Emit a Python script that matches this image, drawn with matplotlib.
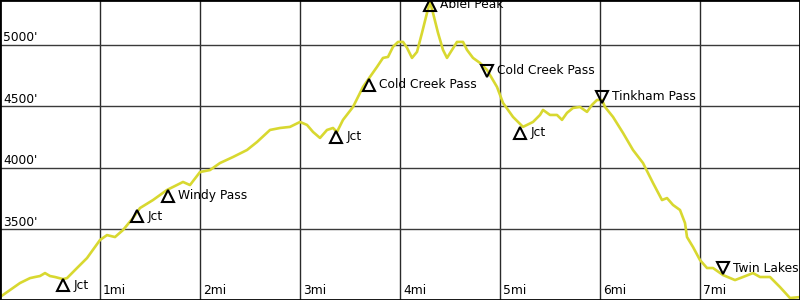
import matplotlib
matplotlib.use('Agg')
import matplotlib.pyplot as plt
import matplotlib.transforms as mtransforms

# elevation profile (miles, feet)
dist = [0.00, 0.10, 0.20, 0.30, 0.35, 0.40, 0.45, 0.50, 0.55, 0.63, 0.67, 0.72, 0.77, 0.87,
        1.00, 1.07, 1.15, 1.23, 1.33, 1.40, 1.53, 1.67, 1.83, 1.90, 2.00, 2.10, 2.20, 2.33,
        2.47, 2.57, 2.70, 2.80, 2.90, 3.00, 3.07, 3.13, 3.20, 3.27, 3.33, 3.37, 3.43, 3.53,
        3.63, 3.70, 3.77, 3.83, 3.88, 3.93, 3.98, 4.03, 4.07, 4.12, 4.17, 4.22, 4.27, 4.30,
        4.33, 4.38, 4.43, 4.47, 4.52, 4.57, 4.63, 4.67, 4.73, 4.80, 4.87, 4.97, 5.03, 5.13,
        5.23, 5.33, 5.40, 5.43, 5.50, 5.57, 5.62, 5.67, 5.73, 5.80, 5.87, 5.92, 5.97, 6.02,
        6.05, 6.13, 6.23, 6.33, 6.43, 6.53, 6.62, 6.67, 6.73, 6.80, 6.85, 6.87, 6.93, 7.00,
        7.07, 7.13, 7.23, 7.35, 7.43, 7.53, 7.60, 7.70, 7.80, 7.90, 8.00]
elev = [2949, 3006, 3063, 3103, 3112, 3120, 3144, 3120, 3112, 3095, 3103, 3144, 3185, 3266,
        3413, 3453, 3437, 3494, 3592, 3673, 3738, 3820, 3885, 3860, 3966, 3982, 4039, 4088,
        4145, 4210, 4308, 4324, 4333, 4373, 4349, 4292, 4243, 4308, 4324, 4292, 4390, 4495,
        4658, 4740, 4821, 4894, 4902, 4984, 5024, 5024, 4976, 4894, 4943, 5098, 5260, 5350,
        5260, 5098, 4959, 4894, 4959, 5024, 5024, 4959, 4894, 4853, 4796, 4658, 4528, 4414,
        4333, 4373, 4430, 4471, 4430, 4430, 4390, 4447, 4487, 4495, 4455, 4512, 4552, 4552,
        4495, 4414, 4284, 4145, 4039, 3877, 3738, 3754, 3698, 3657, 3551, 3437, 3356, 3250,
        3185, 3185, 3128, 3087, 3112, 3144, 3112, 3112, 3030, 2941, 2949]

# waypoints
wp_names = ['Jct', 'Jct', 'Windy Pass', 'Jct', 'Cold Creek Pass', 'Abiel Peak',
            'Cold Creek Pass', 'Jct', 'Tinkham Pass', 'Twin Lakes']
wp_dist = [0.63, 1.37, 1.68, 3.36, 3.69, 4.30, 4.87, 5.20, 6.02, 7.23]
wp_elev = [3046, 3608, 3771, 4251, 4674, 5326, 4788, 4284, 4577, 3185]
wp_dir = ['up', 'up', 'up', 'up', 'up', 'up', 'down', 'up', 'down', 'down']

mile_ticks = [1, 2, 3, 4, 5, 6, 7]
feet_ticks = [3500, 4000, 4500, 5000]

fig = plt.figure(figsize=(8, 3), dpi=100)
ax = fig.add_axes([0, 0, 1, 1])
ax.set_xlim(0, 8)
ax.set_ylim(2925, 5365)
ax.set_xticks([])
ax.set_yticks([])
for s in ax.spines.values():
    s.set_color('k')
    s.set_linewidth(2)

for m in mile_ticks:
    ax.axvline(m, color='#2a2a2a', lw=1, zorder=1)
for f in feet_ticks:
    ax.axhline(f, color='#3a3a3a', lw=1, zorder=1)

xt = mtransforms.blended_transform_factory(ax.transData, ax.transAxes)
yt = mtransforms.blended_transform_factory(ax.transAxes, ax.transData)
for m in mile_ticks:
    ax.text(m + 0.03, 0.01, f'{m}mi', transform=xt, fontsize=8.8, va='bottom', ha='left')
for f in feet_ticks:
    ax.text(0.004, f + 5, f"{f}'", transform=yt, fontsize=8.8, va='bottom', ha='left')

ax.plot(dist, elev, color='#d8d830', lw=1.9, zorder=2, solid_joinstyle='round')

for name, x, y, d in zip(wp_names, wp_dist, wp_elev, wp_dir):
    mk = '^' if d == 'up' else 'v'
    ax.plot([x], [y], marker=mk, ms=8, mfc='none', mec='k', mew=1.5, ls='none', zorder=3)
    ax.annotate(name, (x, y), xytext=(7.5, 0), textcoords='offset points',
                fontsize=8.8, va='center', ha='left', zorder=4)

fig.savefig('out.png', dpi=100)
